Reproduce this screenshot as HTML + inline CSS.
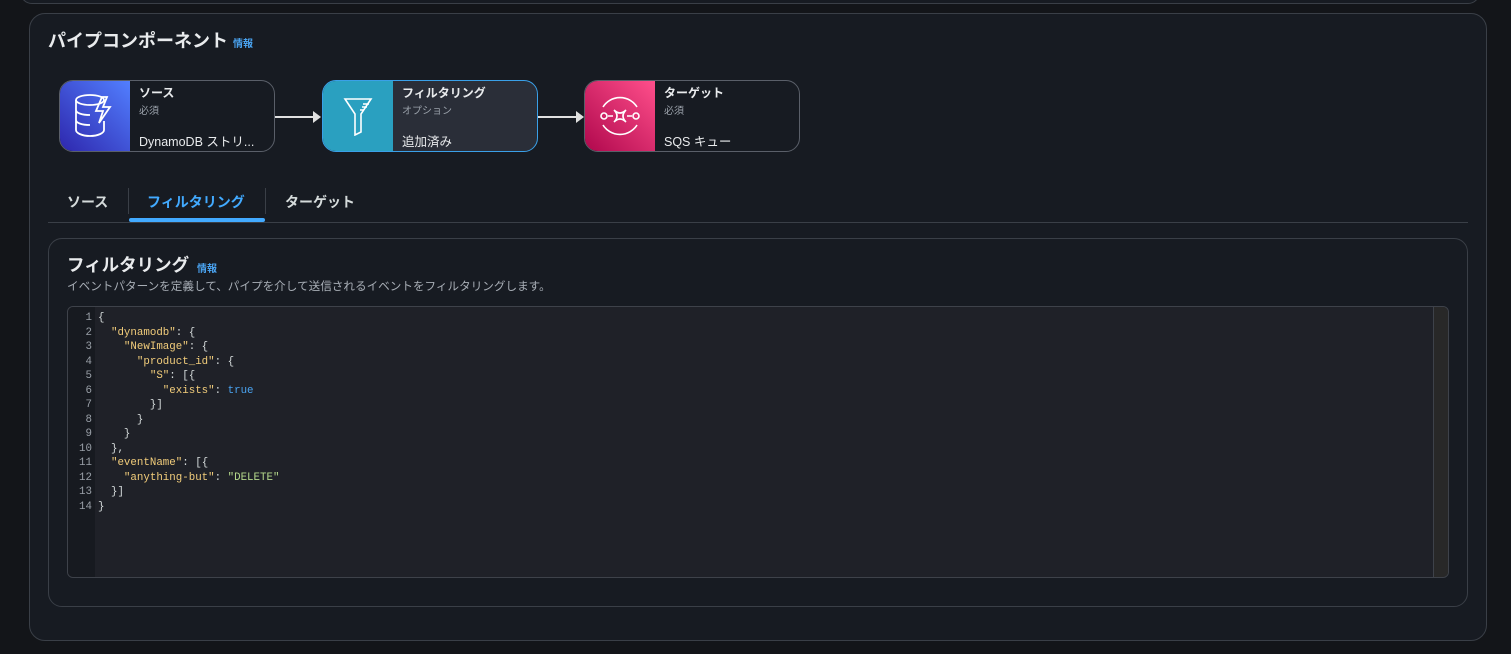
<!DOCTYPE html>
<html><head><meta charset="utf-8"><style>
*{box-sizing:border-box;margin:0;padding:0}
body{width:1511px;height:654px;background:#131519;position:relative;overflow:hidden;font-family:"Liberation Sans","Noto Sans CJK JP",sans-serif;color:#d5dbdb}
.abs{position:absolute}
.panel{border:1px solid #3a3f47;background:#171b22;border-radius:16px}
.node{position:absolute;top:80px;width:216px;height:72px;border:1px solid #5a5f69;border-radius:14px;overflow:hidden;background:#171b22}
.node .ic{position:absolute;left:0;top:0;width:70px;height:100%;display:flex;align-items:center;justify-content:center}
.node .t{position:absolute;left:79px;top:3px;font-size:12px;font-weight:bold;color:#e9ebed}
.node .s{position:absolute;left:79px;top:21px;font-size:10px;color:#9ba2ab}
.node .v{position:absolute;left:79px;top:50px;font-size:12.5px;color:#e9ebed;white-space:nowrap}
.code{font-family:"Liberation Mono","DejaVu Sans Mono",monospace;font-size:10.8px;line-height:14.5px}
.k{color:#f2cd7b}.b{color:#4aa3f0}.g{color:#b5d98b}
</style></head><body>
<div class="abs" style="left:20px;top:-20px;width:1460px;height:24px;border:1px solid #3a3f47;border-radius:12px;background:#171b22"></div>
<div class="abs panel" style="left:29px;top:13px;width:1458px;height:628px"></div>
<div class="abs" style="left:48px;top:27px;font-size:18px;font-weight:bold;color:#e9ebed">パイプコンポーネント</div>
<div class="abs" style="left:233px;top:35px;font-size:10px;font-weight:bold;color:#4aa3f0">情報</div>

<div class="node" style="left:59px"><div class="ic" style="background:linear-gradient(45deg,#2e27ad,#527fff)">
<svg width="46" height="50" viewBox="0 0 46 50" fill="none" stroke="#fff" stroke-width="1.8"><ellipse cx="18" cy="9" rx="14" ry="5"/><path d="M4 9v30c0 3 6 6 14 6s14-3 14-6V30M4 19c0 3 6 5 14 5M4 29c0 3 6 5 14 5"/><path d="M30 6l-6 14h7l-4 12 11-16h-7l4-10z"/></svg></div>
<div class="t">ソース</div><div class="s">必須</div><div class="v">DynamoDB ストリ...</div></div>

<div class="abs" style="left:275px;top:116px;width:40px;height:2px;background:#e0e0e0"></div>
<div class="abs" style="left:313px;top:111px;border-left:8px solid #e0e0e0;border-top:6px solid transparent;border-bottom:6px solid transparent"></div>

<div class="node" style="left:322px;border-color:#3aa0e8;background:#2a2e38"><div class="ic" style="background:#2aa0c0">
<svg width="30" height="40" viewBox="0 0 30 40" fill="none" stroke="#fff" stroke-width="1.6"><path d="M2 3h26L18 18v18l-6 3V18z"/><path d="M20 8h6M19 11h5M17 14h4"/></svg></div>
<div class="t">フィルタリング</div><div class="s">オプション</div><div class="v">追加済み</div></div>

<div class="abs" style="left:538px;top:116px;width:40px;height:2px;background:#e0e0e0"></div>
<div class="abs" style="left:576px;top:111px;border-left:8px solid #e0e0e0;border-top:6px solid transparent;border-bottom:6px solid transparent"></div>

<div class="node" style="left:584px"><div class="ic" style="background:linear-gradient(45deg,#b0084d,#ff4f8b)">
<svg width="50" height="50" viewBox="0 0 50 50" fill="none" stroke="#fff" stroke-width="1.6"><path d="M8 16a20 20 0 0 1 34 0M8 34a20 20 0 0 0 34 0"/><circle cx="9" cy="25" r="3"/><circle cx="41" cy="25" r="3"/><path d="M13 25h5M32 25h5M19 19q6 6 12 0q-6 6 0 12q-6-6-12 0q6-6 0-12z"/></svg></div>
<div class="t">ターゲット</div><div class="s">必須</div><div class="v">SQS キュー</div></div>

<div class="abs" style="left:67px;top:192px;font-size:14px;font-weight:bold;color:#d5dbdb">ソース</div>
<div class="abs" style="left:128px;top:188px;width:1px;height:26px;background:#3a3f47"></div>
<div class="abs" style="left:147px;top:192px;font-size:14px;font-weight:bold;color:#42aaff">フィルタリング</div>
<div class="abs" style="left:265px;top:188px;width:1px;height:26px;background:#3a3f47"></div>
<div class="abs" style="left:285px;top:192px;font-size:14px;font-weight:bold;color:#d5dbdb">ターゲット</div>
<div class="abs" style="left:129px;top:218px;width:136px;height:4px;border-radius:2px;background:#42aaff"></div>
<div class="abs" style="left:48px;top:222px;width:1420px;height:1px;background:#3a3f47"></div>

<div class="abs panel" style="left:48px;top:238px;width:1420px;height:369px;border-radius:14px"></div>
<div class="abs" style="left:67px;top:252px;font-size:17.5px;font-weight:bold;color:#e9ebed">フィルタリング</div>
<div class="abs" style="left:197px;top:260px;font-size:10px;font-weight:bold;color:#4aa3f0">情報</div>
<div class="abs" style="left:67px;top:278px;font-size:11.6px;color:#a8aeb6">イベントパターンを定義して、パイプを介して送信されるイベントをフィルタリングします。</div>

<div class="abs" style="left:67px;top:306px;width:1382px;height:272px;border:1px solid #3e424a;border-radius:6px;background:#1f2128;overflow:hidden">
<div class="abs" style="left:0;top:0;width:27px;height:100%;background:#171a20"></div>
<div class="abs" style="right:0;top:0;width:15px;height:100%;background:#282828;border-left:1px solid #3e424a"></div>
<pre class="abs code" style="left:0;top:4px;width:24px;text-align:right;color:#9aa0a8">1
2
3
4
5
6
7
8
9
10
11
12
13
14</pre>
<pre class="abs code" style="left:30px;top:4px;color:#d5dbdb">{
  <span class="k">"dynamodb"</span>: {
    <span class="k">"NewImage"</span>: {
      <span class="k">"product_id"</span>: {
        <span class="k">"S"</span>: [{
          <span class="k">"exists"</span>: <span class="b">true</span>
        }]
      }
    }
  },
  <span class="k">"eventName"</span>: [{
    <span class="k">"anything-but"</span>: <span class="g">"DELETE"</span>
  }]
}</pre>
</div>
</body></html>
